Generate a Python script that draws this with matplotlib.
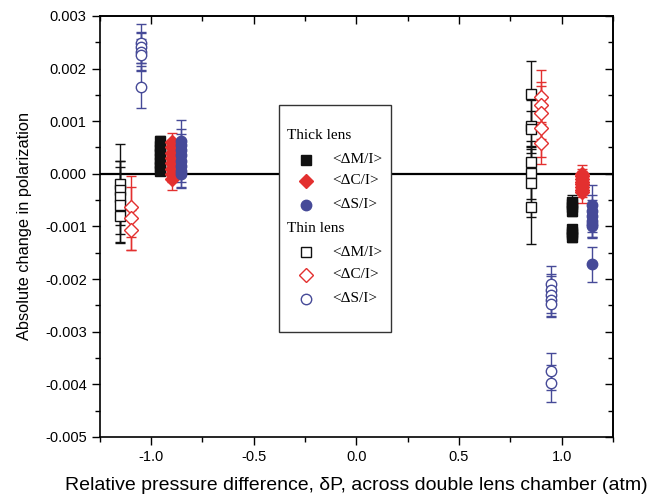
import matplotlib
matplotlib.use("Agg")
import matplotlib.pyplot as plt
from matplotlib.ticker import MultipleLocator, FormatStrFormatter
from matplotlib.patches import Rectangle

RED = "#e3302f"
BLUE = "#464a98"
BLACK = "#111111"

# thick lens, values in units of 1e-3
thick_m_x = [-0.955, 1.05]
thick_m_y = [[0.05, 0.13, 0.21, 0.29, 0.37, 0.45, 0.53, 0.62],
             [-0.53, -0.58, -0.63, -0.7, -1.05, -1.1, -1.15, -1.2]]
thick_m_err = [[0.05, 0.06, 0.06, 0.07, 0.07, 0.08, 0.08, 0.1],
               [0.12, 0.1, 0.1, 0.1, 0.08, 0.08, 0.1, 0.1]]

thick_c_x = [-0.90, 1.10]
thick_c_y = [[0.6, 0.5, 0.4, 0.3, 0.2, 0.1, 0.0, -0.1],
             [0.0, -0.05, -0.1, -0.15, -0.2, -0.25, -0.3, -0.35]]
thick_c_err = [[0.18, 0.15, 0.15, 0.15, 0.15, 0.15, 0.15, 0.2],
               [0.17, 0.15, 0.15, 0.15, 0.15, 0.15, 0.15, 0.2]]

thick_s_x = [-0.853, 1.15]
thick_s_y = [[0.62, 0.55, 0.45, 0.35, 0.25, 0.15, 0.05, 0.0],
             [-0.6, -0.7, -0.8, -0.9, -0.95, -1.0, -1.72]]
thick_s_err = [[0.4, 0.3, 0.3, 0.3, 0.3, 0.3, 0.3, 0.27],
               [0.39, 0.3, 0.3, 0.3, 0.25, 0.22, 0.33]]

# thin lens
thin_m_x = [-1.15, 0.85]
thin_m_y = [[-0.2, -0.3, -0.45, -0.6, -0.8],
            [1.52, 0.9, 0.85, 0.22, 0.02, -0.18, -0.63]]
thin_m_err = [[0.77, 0.55, 0.7, 0.72, 0.5],
              [0.63, 0.5, 0.35, 0.4, 0.5, 0.65, 0.7]]

thin_c_x = [-1.10, 0.90]
thin_c_y = [[-0.63, -0.85, -1.07],
            [1.46, 1.3, 1.16, 0.87, 0.59]]
thin_c_err = [[0.58, 0.6, 0.38],
              [0.52, 0.45, 0.5, 0.55, 0.4]]

thin_s_x = [-1.05, 0.95]
thin_s_y = [[2.48, 2.4, 2.32, 2.26, 1.65],
            [-2.1, -2.2, -2.3, -2.4, -2.47, -3.75, -3.98]]
thin_s_err = [[0.37, 0.3, 0.35, 0.3, 0.4],
              [0.34, 0.3, 0.35, 0.3, 0.25, 0.35, 0.35]]


def draw(ax, xs, ys, errs, marker, color, filled, ms):
    for x, y, e in zip(xs, ys, errs):
        yy = [v * 1e-3 for v in y]
        ee = [v * 1e-3 for v in e]
        ax.errorbar([x] * len(yy), yy, yerr=ee, fmt=marker, ms=ms,
                    color=color, mfc=color if filled else "white",
                    mec=color, mew=1.0, ecolor=color, elinewidth=1.0,
                    capsize=3.5, capthick=1.0, zorder=3)


def main():
    plt.rcParams["font.family"] = ["Liberation Sans", "DejaVu Sans"]
    fig = plt.figure(figsize=(6.57, 4.97), dpi=100)
    ax = fig.add_axes([0.152, 0.121, 0.781, 0.847])

    ax.axhline(0, color="black", lw=1.6, zorder=2)

    draw(ax, thin_m_x, thin_m_y, thin_m_err, "s", BLACK, False, 6.5)
    draw(ax, thin_c_x, thin_c_y, thin_c_err, "D", RED, False, 7)
    draw(ax, thin_s_x, thin_s_y, thin_s_err, "o", BLUE, False, 7.5)
    draw(ax, thick_m_x, thick_m_y, thick_m_err, "s", BLACK, True, 6.5)
    draw(ax, thick_c_x, thick_c_y, thick_c_err, "D", RED, True, 7)
    draw(ax, thick_s_x, thick_s_y, thick_s_err, "o", BLUE, True, 7.5)

    ax.set_xlim(-1.25, 1.25)
    ax.set_ylim(-0.005, 0.003)
    ax.xaxis.set_major_locator(MultipleLocator(0.5))
    ax.xaxis.set_minor_locator(MultipleLocator(0.25))
    ax.yaxis.set_major_locator(MultipleLocator(0.001))
    ax.yaxis.set_minor_locator(MultipleLocator(0.0005))
    ax.xaxis.set_major_formatter(FormatStrFormatter("%.1f"))
    ax.yaxis.set_major_formatter(FormatStrFormatter("%.3f"))
    ax.tick_params(which="major", direction="out", length=6, width=1.0,
                   labelsize=10.5)
    ax.tick_params(which="minor", direction="out", length=3.5, width=1.0)
    for s in ax.spines.values():
        s.set_linewidth(1.2)

    top = ax.secondary_xaxis("top")
    top.xaxis.set_major_locator(MultipleLocator(0.5))
    top.xaxis.set_minor_locator(MultipleLocator(0.25))
    top.tick_params(which="major", direction="in", length=6, width=1.0,
                    labeltop=False)
    top.tick_params(which="minor", direction="in", length=3.5, width=1.0)
    top.spines["top"].set_linewidth(1.2)
    right = ax.secondary_yaxis("right")
    right.yaxis.set_major_locator(MultipleLocator(0.001))
    right.yaxis.set_minor_locator(MultipleLocator(0.0005))
    right.tick_params(which="major", direction="in", length=6, width=1.0,
                      labelright=False)
    right.tick_params(which="minor", direction="in", length=3.5, width=1.0)
    right.spines["right"].set_linewidth(1.2)

    ax.set_xlabel("Relative pressure difference, \u03b4P, across double lens chamber (atm)",
                  fontsize=14, labelpad=9)
    ax.set_ylabel("Absolute change in polarization", fontsize=11.8, labelpad=9)

    # legend box drawn by hand
    ax.add_patch(Rectangle((0.349, 0.249), 0.218, 0.540, transform=ax.transAxes,
                           facecolor="white", edgecolor="#333333", lw=1.0,
                           zorder=5))
    serif = dict(family=["Liberation Serif", "DejaVu Serif"], fontsize=11,
                 va="center", transform=ax.transAxes, zorder=6)
    ax.text(0.365, 0.717, "Thick lens", **serif)
    ax.text(0.365, 0.494, "Thin lens", **serif)
    rows = [
        (0.658, "s", BLACK, True, "<\u0394M/I>"),
        (0.608, "D", RED, True, "<\u0394C/I>"),
        (0.551, "o", BLUE, True, "<\u0394S/I>"),
        (0.439, "s", BLACK, False, "<\u0394M/I>"),
        (0.385, "D", RED, False, "<\u0394C/I>"),
        (0.328, "o", BLUE, False, "<\u0394S/I>"),
    ]
    for y, m, c, f, lab in rows:
        ax.plot([0.402], [y], marker=m, ms=7.5, color=c, mfc=c if f else "white",
                mec=c, mew=1.0, ls="none", transform=ax.transAxes, zorder=6,
                clip_on=False)
        ax.text(0.452, y, lab, **serif)

    fig.savefig("out.png", dpi=100)


if __name__ == "__main__":
    main()
